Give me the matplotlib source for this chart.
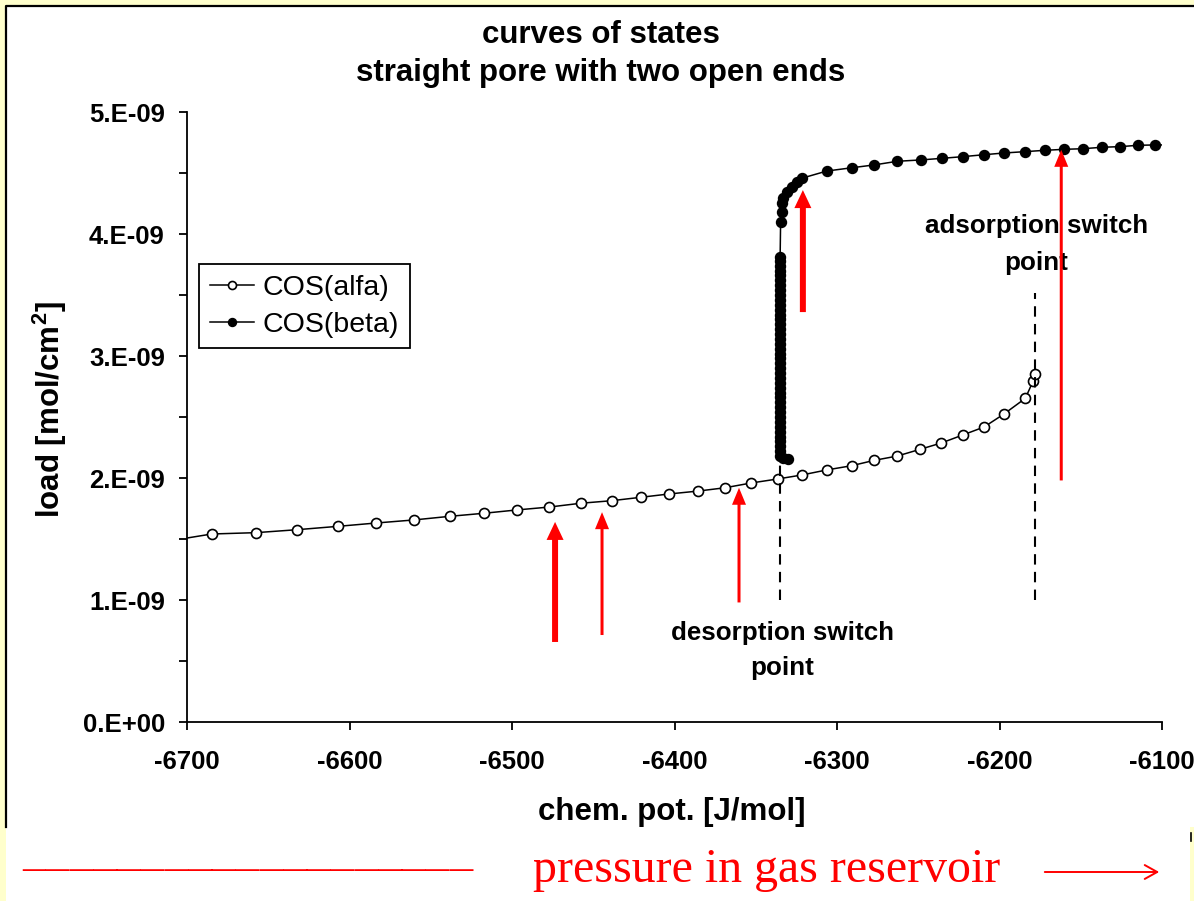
import matplotlib
matplotlib.use("Agg")
import matplotlib.pyplot as plt
from matplotlib.patches import Rectangle, FancyArrowPatch
from matplotlib.lines import Line2D

plt.rcParams['font.family'] = ['Liberation Sans', 'DejaVu Sans']
plt.rcParams['mathtext.fontset'] = 'custom'
plt.rcParams['mathtext.rm'] = 'Liberation Sans:bold'
plt.rcParams['mathtext.bf'] = 'Liberation Sans:bold'

# ---------------- data ----------------
# COS(alfa): chemical potential [J/mol], load [1e-9 mol/cm2]
alfa_mu = [-6700.0, -6684.8, -6657.5, -6632.5, -6606.9, -6583.7, -6560.5, -6538.2,
           -6517.2, -6497.1, -6477.0, -6457.7, -6438.6, -6420.6, -6403.4, -6385.4,
           -6368.9, -6352.9, -6336.5, -6321.5, -6306.3, -6290.9, -6277.0, -6262.9,
           -6248.9, -6235.8, -6222.7, -6209.5, -6197.2, -6184.1, -6179.2, -6178.4]
alfa_load = [1.508, 1.541, 1.552, 1.576, 1.604, 1.631, 1.656, 1.686,
             1.711, 1.738, 1.762, 1.793, 1.814, 1.842, 1.869, 1.893,
             1.920, 1.959, 1.992, 2.025, 2.066, 2.101, 2.145, 2.180,
             2.235, 2.287, 2.352, 2.418, 2.525, 2.653, 2.798, 2.850]

# COS(beta)
beta_mu = [-6330.2, -6333.5,
           -6335.0, -6335.0, -6335.0, -6335.0, -6335.0, -6335.0, -6335.0, -6335.0,
           -6335.0, -6335.0, -6335.0, -6335.0, -6335.0, -6335.0, -6335.0, -6335.0,
           -6335.0, -6335.0, -6335.0, -6335.0, -6335.0, -6335.0, -6335.0, -6335.0,
           -6335.0, -6335.0, -6335.0, -6335.0, -6335.0, -6335.0, -6335.0, -6335.0,
           -6335.0, -6335.0, -6335.0, -6335.0, -6335.0, -6335.0, -6335.0, -6335.0,
           -6335.0, -6335.0,
           -6334.7, -6334.1, -6333.7, -6333.0, -6330.9, -6327.9, -6324.8, -6321.7,
           -6306.3, -6290.9, -6277.2, -6262.9, -6248.5, -6235.6, -6222.6, -6209.4,
           -6197.2, -6184.3, -6172.0, -6160.3, -6148.8, -6136.7, -6125.8, -6114.8,
           -6104.3, -6100.0]
beta_load = [2.153, 2.165,
             2.18, 2.22, 2.26, 2.30, 2.34, 2.38, 2.42, 2.46,
             2.50, 2.54, 2.58, 2.62, 2.66, 2.70, 2.74, 2.78,
             2.82, 2.86, 2.90, 2.94, 2.98, 3.02, 3.06, 3.10,
             3.14, 3.18, 3.22, 3.26, 3.30, 3.34, 3.38, 3.42,
             3.46, 3.50, 3.54, 3.58, 3.62, 3.66, 3.70, 3.74,
             3.78, 3.81,
             4.101, 4.183, 4.252, 4.293, 4.347, 4.388, 4.424, 4.457,
             4.516, 4.543, 4.566, 4.596, 4.607, 4.620, 4.634, 4.650,
             4.664, 4.675, 4.686, 4.694, 4.699, 4.711, 4.716, 4.727,
             4.730, 4.730]

x_ticks = [-6700, -6600, -6500, -6400, -6300, -6200, -6100]
y_ticks = [0, 1, 2, 3, 4, 5]
y_tick_labels = ["0.E+00", "1.E-09", "2.E-09", "3.E-09", "4.E-09", "5.E-09"]
y_minor = [0.5, 1.5, 2.5, 3.5, 4.5]

# switch points (dashed lines): x, y_from, y_to
desorption_switch = (-6335.0, 1.0, 2.13)
adsorption_switch = (-6178.2, 1.0, 3.52)

# red arrows: x, y_start, y_tip, thick?
arrow_x = [-6473.5, -6444.6, -6360.3, -6321.0, -6162.0]
arrow_y0 = [0.656, 0.713, 0.980, 3.360, 1.980]
arrow_y1 = [1.640, 1.720, 1.920, 4.360, 4.690]
arrow_thick = [True, False, False, True, False]

# ---------------- figure ----------------
W, H = 1194, 901
fig = plt.figure(figsize=(W / 100, H / 100), dpi=100)
fig.patch.set_facecolor('#FFFFCC')

# white panel with black frame (left and top edges visible)
fig.patches.append(Rectangle((6 / W, 1 - 827 / H), 1.2, (827 - 6) / H, transform=fig.transFigure,
                             facecolor='white', edgecolor='none', zorder=-10))
fig.patches.append(Rectangle((6 / W, 0), 1184 / W, 1 - 826 / H, transform=fig.transFigure,
                             facecolor='white', edgecolor='none', zorder=-9))
fig.lines.append(Line2D([6 / W, 6 / W, 1.0], [1 - 827 / H, 1 - 6 / H, 1 - 6 / H],
                        transform=fig.transFigure, color='black', lw=1.6))
fig.lines.append(Line2D([1191 / W, 1191 / W], [1 - 833 / H, 1 - 841 / H],
                        transform=fig.transFigure, color='black', lw=1.2))

ax = fig.add_axes([187 / W, 1 - 722 / H, 975 / W, 610 / H])
ax.set_facecolor('none')

ax.plot(alfa_mu, alfa_load, color='black', lw=1.1, marker='o', ms=7.2,
        mfc='white', mec='black', mew=1.2, markevery=slice(1, None),
        label='COS(alfa)', zorder=3)
ax.plot(beta_mu, beta_load, color='black', lw=1.1, marker='o', ms=7.2,
        mfc='black', mec='black', mew=1.0, markevery=slice(0, -1),
        label='COS(beta)', zorder=3)

for sx, s0, s1 in (desorption_switch, adsorption_switch):
    ax.plot([sx, sx], [s0, s1], color='black', lw=1.5, ls=(0, (5, 3.5)), zorder=4)

px_x = 600 / 975   # data units per pixel in x
px_y = 5 / 610     # data units per pixel in y
for x, y0, y1, thick in zip(arrow_x, arrow_y0, arrow_y1, arrow_thick):
    if thick:
        w, hw, hl = 6 * px_x, 17 * px_x, 18 * px_y
    else:
        w, hw, hl = 3 * px_x, 14 * px_x, 17 * px_y
    ax.arrow(x, y0, 0, y1 - y0, width=w, head_width=hw, head_length=hl,
             length_includes_head=True, color='#FF0000', lw=0, zorder=5)

ax.text(-6177.5, 3.915, "adsorption switch\npoint", ha='center', va='center',
        fontsize=18.7, fontweight='bold', linespacing=1.65, zorder=4)
ax.text(-6333.8, 0.585, "desorption switch\npoint", ha='center', va='center',
        fontsize=18.7, fontweight='bold', linespacing=1.55, zorder=4)

ax.set_xlim(-6700, -6100)
ax.set_ylim(0, 5)
ax.set_xticks(x_ticks)
ax.set_xticklabels([str(t) for t in x_ticks])
ax.set_yticks(y_ticks)
ax.set_yticklabels(y_tick_labels)
ax.set_yticks(y_minor, minor=True)
for lab in ax.get_xticklabels() + ax.get_yticklabels():
    lab.set_fontweight('bold')
ax.tick_params(axis='x', which='major', direction='out', length=6, width=1.3,
               labelsize=18.5, pad=14)
ax.tick_params(axis='y', which='major', direction='out', length=6, width=1.3,
               labelsize=18.5, pad=10)
ax.tick_params(axis='y', which='minor', direction='out', length=6, width=1.3)
for s in ('top', 'right'):
    ax.spines[s].set_visible(False)
for s in ('left', 'bottom'):
    ax.spines[s].set_linewidth(1.3)

ax.set_xlabel("chem. pot. [J/mol]", fontsize=22.5, fontweight='bold')
ax.xaxis.set_label_coords(0.497, (722 - 812) / 610)
ax.xaxis.label.set_va('center')
ax.set_ylabel(r"load [mol/cm$^{\mathbf{2}}$]", fontsize=22.5, fontweight='bold')
ax.yaxis.set_label_coords((50 - 187) / 975, (722 - 410) / 610)
ax.yaxis.label.set_va('center')

leg = ax.legend(loc='upper left', bbox_to_anchor=(12 / 975, 1 + (112 - 264) / 610),
                borderaxespad=0, fontsize=20.5, frameon=True, fancybox=False,
                edgecolor='black', framealpha=1, handlelength=1.55,
                handletextpad=0.3, labelspacing=0.38, borderpad=0.38, markerscale=0.8)
leg.get_frame().set_linewidth(1.3)

fig.text(601 / W, 1 - 54 / H, "curves of states\nstraight pore with two open ends",
         ha='center', va='center', fontsize=22.5, fontweight='bold', linespacing=1.33)

# bottom band
fig.text(22 / W, 1 - 870 / H, "–" * 19, color='#FF0000', fontsize=34,
         family='Liberation Serif', ha='left', va='center')
fig.text(533 / W, 1 - 870 / H, "pressure in gas reservoir", color='#FF0000',
         fontsize=34.5, family='Liberation Serif', ha='left', va='center')
fig.patches.append(FancyArrowPatch(
    (1042 / W, 1 - 872 / H), (1162 / W, 1 - 872 / H), transform=fig.transFigure,
    arrowstyle='->,head_length=9,head_width=5', color='#FF0000', lw=1.4,
    mutation_scale=1))

fig.savefig("out.png", dpi=100, facecolor=fig.get_facecolor())
